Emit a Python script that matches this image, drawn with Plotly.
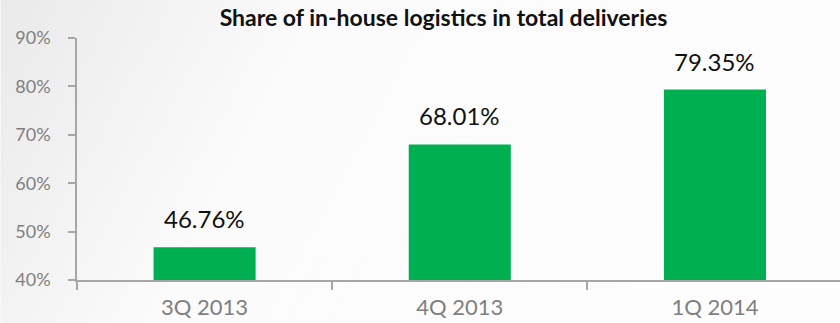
import plotly.graph_objects as go

categories = ["3Q 2013", "4Q 2013", "1Q 2014"]
values = [46.76, 68.01, 79.35]
value_labels = ["46.76%", "68.01%", "79.35%"]
y_ticks = [40, 50, 60, 70, 80, 90]
y_tick_labels = ["40%", "50%", "60%", "70%", "80%", "90%"]

fig = go.Figure()
fig.add_trace(go.Bar(
    x=categories, y=values, marker=dict(color="#00B050", line=dict(width=0)),
    hoverinfo="skip",
))

for c, v, t in zip(categories, values, value_labels):
    fig.add_annotation(x=c, y=v, text=t, showarrow=False, yanchor="bottom",
                       yshift=12, font=dict(family="Lato", size=24, color="#111111"))

bg_svg = ("data:image/svg+xml;utf8,"
          "<svg xmlns='http://www.w3.org/2000/svg' width='840' height='323'>"
          "<defs><linearGradient id='g' x1='0' y1='0' x2='1' y2='0.2'>"
          "<stop offset='0' stop-color='%23e9e9e9'/>"
          "<stop offset='0.35' stop-color='%23fbfbfb'/>"
          "<stop offset='1' stop-color='%23fdfdfd'/>"
          "</linearGradient></defs>"
          "<rect width='840' height='323' fill='url(%23g)'/></svg>")

fig.update_layout(
    width=840, height=323,
    margin=dict(l=77, r=0, t=38, b=43),
    paper_bgcolor="#f7f7f7",
    plot_bgcolor="white",
    bargap=0.6,
    showlegend=False,
    title=dict(text="<b>Share of in-house logistics in total deliveries</b>",
               x=0.528, xanchor="center", y=0.945, yanchor="middle",
               font=dict(family="Lato", size=23, color="#111111")),
    images=[dict(source=bg_svg, xref="paper", yref="paper", x=-0.1, y=1.2,
                 sizex=1.2, sizey=1.4, xanchor="left", yanchor="top",
                 sizing="stretch", layer="below")],
    xaxis=dict(
        range=[-0.5, 2.49], automargin=False,
        showline=True, linecolor="#a6a6a6", linewidth=1.5,
        ticks="outside", tickson="boundaries", ticklen=8, tickcolor="#a6a6a6",
        tickwidth=1.5, ticklabelstandoff=7,
        tickfont=dict(family="Lato", size=22, color="#7f7f7f"),
        showgrid=False, zeroline=False,
    ),
    yaxis=dict(
        range=[40, 90], tickvals=y_ticks, ticktext=y_tick_labels,
        automargin=False,
        showline=True, linecolor="#a6a6a6", linewidth=1.5,
        ticks="outside", ticklen=7, tickcolor="#a6a6a6", tickwidth=1.5,
        ticklabelstandoff=14,
        tickfont=dict(family="Lato", size=18, color="#7f7f7f"),
        showgrid=False, zeroline=False,
    ),
)

fig.write_html("out.html")
